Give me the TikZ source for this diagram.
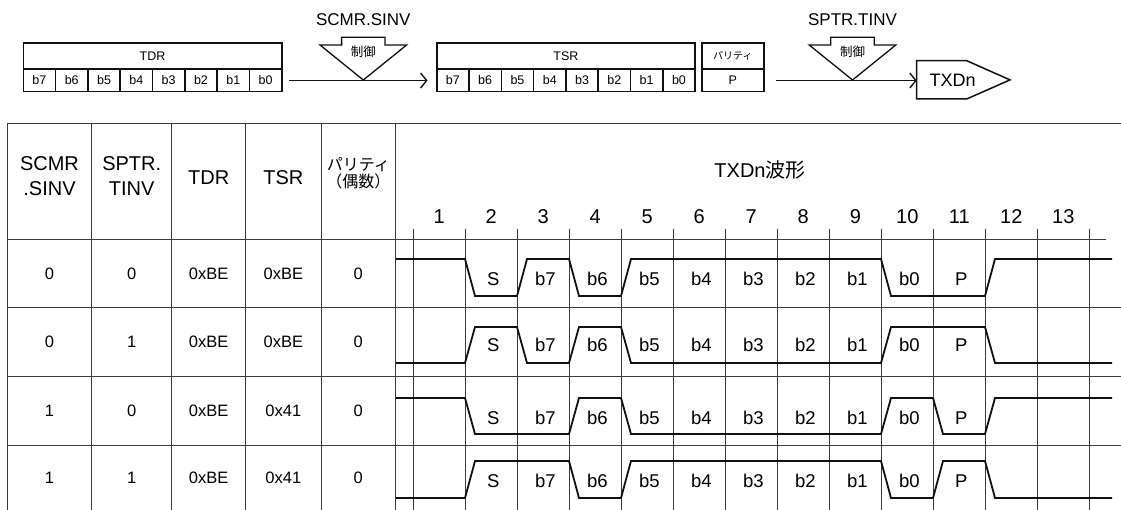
\documentclass[tikz,border=0pt]{standalone}
\usepackage{fontspec}
\setmainfont{Liberation Sans}
\newfontfamily\jp{Noto Sans CJK JP}
\usepackage{tikz}
\usetikzlibrary{arrows.meta}
\definecolor{ink}{HTML}{111111}
\definecolor{rule}{HTML}{3A3A3A}
\tikzset{
  regbox/.style={rectangle, draw=ink, line width=1.6pt, inner sep=0pt, font=\fontsize{12.5}{14}\selectfont},
  regtitle/.style={regbox, minimum width=258.4pt, minimum height=26pt},
  bitcell/.style={regbox, minimum width=32.3pt, minimum height=22.4pt},
  ctrl/.style={draw=ink, line width=1.3pt, line join=miter},
  flow/.style={-{Straight Barb[length=6pt, width=15pt]}, draw=ink, line width=1.4pt},
  tbl/.style={draw=rule, line width=0.9pt},
  gridline/.style={draw=rule, line width=0.8pt},
  wave/.style={draw=ink, line width=1.8pt, line join=miter},
  hdr/.style={font=\fontsize{20}{25}\selectfont, align=center},
  cell/.style={font=\fontsize{16.5}{20}\selectfont},
  bitlbl/.style={font=\fontsize{18.5}{20}\selectfont},
  num/.style={font=\fontsize{20}{22}\selectfont}
}
\begin{document}
\begin{tikzpicture}[x=1pt, y=-1pt, every node/.style={inner sep=0pt}]
  \useasboundingbox (0,0) rectangle (1121,510);

  % registers
  \node[regtitle] (tdr) at (152.5,56.3) {TDR};
  \foreach \b [count=\i from 0] in {7,6,...,0}
    \node[bitcell] (tdr\b) at ({39.45+32.3*\i},80.5) {b\b};
  \node[regtitle] (tsr) at (565.9,56.3) {TSR};
  \foreach \b [count=\i from 0] in {7,6,...,0}
    \node[bitcell] (tsr\b) at ({452.85+32.3*\i},80.5) {b\b};
  \node[regbox, minimum width=62.3pt, minimum height=26pt, font=\jp\fontsize{10}{12}\selectfont] (par) at (732.85,56.3) {パリティ};
  \node[regbox, minimum width=62.3pt, minimum height=22.4pt] (parp) at (732.85,80.5) {P};

  \node[font=\fontsize{18}{20}\selectfont, anchor=west] (txd) at (929.5,79.9) {TXDn};
  \draw[ctrl, line width=1.5pt] (916.7,60.7) -- (966.7,60.7) -- (1010,79.9) -- (966.7,99) -- (916.7,99) -- cycle;
  \coordinate (txdin) at (916.7,80.5);

  \draw[flow, shorten <=6.3pt, shorten >=8.4pt] (tdr0) -- (tsr7);
  \draw[flow, shorten <=11pt] (parp) -- (txdin);

  % control arrows
  \foreach \cx/\nm/\txt in {363.3/sinv/SCMR.SINV, 852.5/tinv/SPTR.TINV} {
    \draw[ctrl] ({\cx-21.7},37.3) -- ({\cx+21.7},37.3) -- ({\cx+21.7},45) -- ({\cx+43.3},45)
      -- (\cx,80) -- ({\cx-43.3},45) -- ({\cx-21.7},45) -- cycle;
    \node[font=\jp\fontsize{12.5}{14}\selectfont] (\nm ctl) at (\cx,51.7) {制御};
    \node[font=\fontsize{17}{20}\selectfont] (\nm lbl) at (\cx,20) {\txt};
  }

  % table
  \draw[tbl] (7.3,123) -- (1121,123);
  \draw[tbl] (7.3,239) -- (1105.7,239);
  \foreach \y in {307,376,445}
    \draw[tbl] (7.3,\y) -- (1121,\y);
  \foreach \x in {7.3,91.7,171.7,245.7,321,395.7}
    \draw[tbl] (\x,123) -- (\x,510);
  \foreach \k in {0,...,13}
    \draw[gridline] ({413.3+52*\k},229) -- ({413.3+52*\k},510);

  \node[hdr] (hsinv) at (49.5,175.8) {SCMR\\.SINV};
  \node[hdr] (htinv) at (131.7,175.8) {SPTR.\\TINV};
  \node[hdr] (htdr) at (208.7,177.3) {TDR};
  \node[hdr] (htsr) at (283.3,177.3) {TSR};
  \node[hdr, font=\jp\fontsize{16}{16.7}\selectfont] (hpar) at (358.3,173.3) {パリティ\\（偶数）};
  \node[hdr] (hwave) at (760,170.4) {TXDn{\jp 波形}};
  \foreach \k in {1,...,13}
    \node[num] (n\k) at ({439.3+52*(\k-1)},217) {\k};

  \foreach \r/\y/\a/\b/\t/\s in {1/274.3/0/0/0xBE/0xBE, 2/342.3/0/1/0xBE/0xBE, 3/411/1/0/0xBE/0x41, 4/478.3/1/1/0xBE/0x41} {
    \node[cell] (sinv\r) at (49.5,\y) {\a};
    \node[cell] (tinv\r) at (131.7,\y) {\b};
    \node[cell] (tdrv\r) at (208.7,\y) {\t};
    \node[cell] (tsrv\r) at (283.3,\y) {\s};
    \node[cell] (parv\r) at (358.3,\y) {0};
  }

  % waveforms
  \foreach \hi/\lo/\a/\lv in {259/296/1/{0,1,0,1,1,1,1,1,0,0,1}, 327/363/0/{1,0,1,0,0,0,0,0,1,1,0},
                              398/434/1/{0,0,1,0,0,0,0,0,1,0,1}, 461/498/0/{1,1,0,1,1,1,1,1,0,1,0}}
    \draw[wave] (396,{\lo+(\hi-\lo)*\a})
      \foreach \l [count=\k, remember=\l as \p (initially \a)] in \lv
        { -- ({465+52*(\k-1)},{\lo+(\hi-\lo)*\p}) -- ({475+52*(\k-1)},{\lo+(\hi-\lo)*\l}) }
      -- ++(117,0);

  \foreach \r/\y in {1/279, 2/345, 3/417.7, 4/481}
    \foreach \l [count=\k from 2] in {S,b7,b6,b5,b4,b3,b2,b1,b0,P}
      \node[bitlbl] (w\r-\k) at ({441.3+52*(\k-1)},\y) {\l};
\end{tikzpicture}
\end{document}
